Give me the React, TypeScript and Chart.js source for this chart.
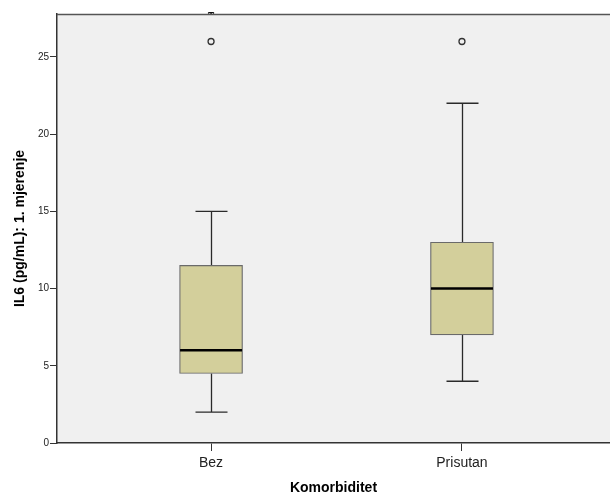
import React, { useEffect, useRef } from "react";
import { Chart, registerables } from "chart.js";

Chart.register(...registerables);

const categories = ["Bez", "Prisutan"];
const whiskerLow = [2, 4];
const q1 = [4.5, 7];
const median = [6, 10];
const q3 = [11.5, 13];
const whiskerHigh = [15, 22];
const outliers = [26, 26];
const extremes: (number | null)[] = [28, null];
const yTicks = [0, 5, 10, 15, 20, 25];

const FONT = "'Liberation Sans', Arial, sans-serif";

const boxPlugin = {
  id: "boxParts",
  beforeDraw(chart: any) {
    const { ctx, chartArea } = chart;
    ctx.save();
    ctx.fillStyle = "#F0F0F0";
    ctx.fillRect(chartArea.left, chartArea.top, chartArea.right - chartArea.left, chartArea.bottom - chartArea.top);
    ctx.restore();
  },
  beforeDatasetsDraw(chart: any) {
    const { ctx } = chart;
    const xs = chart.scales.x;
    const ys = chart.scales.y;
    ctx.save();
    ctx.strokeStyle = "#2a2a2a";
    ctx.lineWidth = 1.3;
    categories.forEach((_, i) => {
      const cx = Math.round(xs.getPixelForValue(i + 1)) + 0.5;
      const half = 16;
      const pLo = ys.getPixelForValue(whiskerLow[i]);
      const pQ1 = ys.getPixelForValue(q1[i]);
      const pQ3 = ys.getPixelForValue(q3[i]);
      const pHi = ys.getPixelForValue(whiskerHigh[i]);
      ctx.beginPath();
      ctx.moveTo(cx, pLo);
      ctx.lineTo(cx, pQ1);
      ctx.moveTo(cx, pQ3);
      ctx.lineTo(cx, pHi);
      ctx.moveTo(cx - half, pLo);
      ctx.lineTo(cx + half, pLo);
      ctx.moveTo(cx - half, pHi);
      ctx.lineTo(cx + half, pHi);
      ctx.stroke();
    });
    ctx.restore();
  },
  afterDatasetsDraw(chart: any) {
    const { ctx, chartArea } = chart;
    const xs = chart.scales.x;
    const ys = chart.scales.y;
    ctx.save();
    ctx.strokeStyle = "#000000";
    ctx.lineWidth = 2.5;
    categories.forEach((_, i) => {
      const cx = xs.getPixelForValue(i + 1);
      const pm = ys.getPixelForValue(median[i]);
      ctx.beginPath();
      ctx.moveTo(cx - 31, pm);
      ctx.lineTo(cx + 31, pm);
      ctx.stroke();
    });
    ctx.strokeStyle = "#555555";
    ctx.lineWidth = 1.5;
    ctx.beginPath();
    ctx.moveTo(chartArea.left, chartArea.top + 0.5);
    ctx.lineTo(chartArea.right, chartArea.top + 0.5);
    ctx.stroke();
    ctx.restore();
  },
};

export default function App() {
  const ref = useRef<HTMLCanvasElement | null>(null);
  useEffect(() => {
    if (!ref.current) return;
    const chart = new Chart(ref.current, {
      type: "bar",
      data: {
        datasets: [
          {
            type: "bar",
            data: categories.map((_, i) => ({ x: i + 1, y: [q1[i], q3[i]] })) as any,
            backgroundColor: "#D3CF9B",
            borderColor: "#6A6A6A",
            borderWidth: 1.2,
            borderSkipped: false,
            barThickness: 63,
            order: 2,
          } as any,
          {
            type: "line",
            data: categories.map((_, i) => ({ x: i + 1, y: outliers[i] })) as any,
            showLine: false,
            pointStyle: "circle",
            pointRadius: 3,
            pointBorderColor: "#333333",
            pointBackgroundColor: "rgba(0,0,0,0)",
            pointBorderWidth: 1.3,
            order: 1,
          } as any,
          {
            type: "line",
            data: categories.map((_, i) => ({ x: i + 1, y: extremes[i] })) as any,
            showLine: false,
            pointStyle: "star",
            pointRadius: 4,
            pointBorderColor: "#111111",
            pointBorderWidth: 1.5,
            clip: { left: 0, top: 2, right: 0, bottom: 0 },
            order: 0,
          } as any,
        ],
      },
      options: {
        animation: false,
        responsive: false,
        maintainAspectRatio: false,
        layout: { autoPadding: false, padding: { top: 14, left: 0, right: 0, bottom: 0 } },
        plugins: { legend: { display: false }, tooltip: { enabled: false } },
        scales: {
          x: {
            type: "linear",
            offset: false,
            min: 0.386,
            max: 2.59,
            afterBuildTicks: (s: any) => {
              s.ticks = categories.map((_, i) => ({ value: i + 1 }));
            },
            afterFit: (s: any) => {
              s.height = 55;
              s.paddingLeft = 0;
              s.paddingRight = 0;
            },
            ticks: {
              callback: (v: any) => categories[Math.round(Number(v)) - 1] ?? "",
              font: { family: FONT, size: 14 },
              color: "#222222",
              padding: 4,
              maxRotation: 0,
              autoSkip: false,
            },
            grid: { offset: false, drawOnChartArea: false, drawTicks: true, tickLength: 8, color: "#333333", lineWidth: 1 },
            border: { display: true, color: "#333333", width: 1.5 },
            title: {
              display: true,
              text: "Komorbiditet",
              font: { family: FONT, size: 14, weight: "bold" },
              color: "#000000",
              padding: { top: 0, bottom: 1 },
            },
          },
          y: {
            type: "linear",
            min: 0,
            max: 27.78,
            afterBuildTicks: (s: any) => {
              s.ticks = yTicks.map((v) => ({ value: v }));
            },
            afterFit: (s: any) => {
              s.width = 57;
            },
            ticks: {
              font: { family: FONT, size: 10 },
              color: "#222222",
              padding: 1,
            },
            grid: { drawOnChartArea: false, drawTicks: true, tickLength: 7, color: "#333333", lineWidth: 1 },
            border: { display: true, color: "#333333", width: 1.5 },
            title: {
              display: true,
              text: "IL6 (pg/mL): 1. mjerenje",
              font: { family: FONT, size: 14, weight: "bold" },
              color: "#000000",
              padding: { top: 12, bottom: 0 },
            },
          },
        },
      },
      plugins: [boxPlugin],
    });
    return () => chart.destroy();
  }, []);
  return (
    <div style={{ position: "absolute", left: 0, top: 0, width: 610, height: 498, background: "#ffffff" }}>
      <canvas ref={ref} width={610} height={498} style={{ display: "block" }} />
    </div>
  );
}
